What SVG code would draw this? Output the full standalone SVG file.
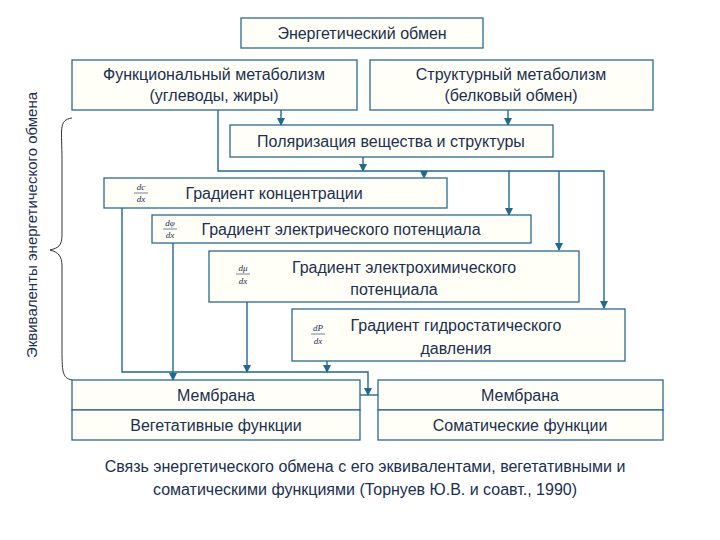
<svg xmlns="http://www.w3.org/2000/svg" width="720" height="540" viewBox="0 0 720 540">
<style>
.b{fill:#fffff8;stroke:#2a6a8a;stroke-width:1.3}
.t{font-family:"Liberation Sans",Arial,sans-serif;font-size:16px;fill:#1a3050;text-anchor:middle}
.f{font-family:"Liberation Serif",serif;font-style:italic;font-size:9px;fill:#1a3050;text-anchor:middle}
.c{fill:none;stroke:#1f6a8e;stroke-width:1.4}
</style>
<defs><marker id="a" markerWidth="8" markerHeight="8" refX="7" refY="4" orient="auto" markerUnits="userSpaceOnUse"><path d="M0,0L8,4L0,8z" fill="#1f6a8e"/></marker></defs>
<rect width="720" height="540" fill="#fff"/>
<g id="connectors">
<path class="c" d="M218,110V171H604V308" marker-end="url(#a)"/>
<path class="c" d="M281,110V125" marker-end="url(#a)"/>
<path class="c" d="M508,110V125" marker-end="url(#a)"/>
<path class="c" d="M363,157V171" marker-end="url(#a)"/>
<path class="c" d="M424,171V178" marker-end="url(#a)"/>
<path class="c" d="M509,171V215" marker-end="url(#a)"/>
<path class="c" d="M559,171V250" marker-end="url(#a)"/>
<path class="c" d="M122,208V372H368V395" marker-end="url(#a)"/>
<path class="c" d="M173,243V380" marker-end="url(#a)"/>
<path class="c" d="M247,302V372" marker-end="url(#a)"/>
<path class="c" d="M327,361V372" marker-end="url(#a)"/>
<path class="c" d="M360,395H378"/>
<path d="M72,118C58,120 62,130 62,160V235C62,246 58,248 50,250C58,252 62,256 62,266V345C62,372 62,378 72,380" fill="none" stroke="#333" stroke-width="1"/>
</g>
<g id="n0"><rect class="b" x="241" y="18" width="242" height="30"/><text class="t" x="362" y="39">Энергетический обмен</text></g>
<g id="n1"><rect class="b" x="72" y="60" width="285" height="50"/><text class="t" x="214" y="80">Функциональный метаболизм</text><text class="t" x="214" y="101">(углеводы, жиры)</text></g>
<g id="n2"><rect class="b" x="370" y="60" width="283" height="50"/><text class="t" x="511" y="80">Структурный метаболизм</text><text class="t" x="511" y="101">(белковый обмен)</text></g>
<g id="n3"><rect class="b" x="230" y="125" width="323" height="32"/><text class="t" x="391" y="147">Поляризация вещества и структуры</text></g>
<g id="n4"><rect class="b" x="104" y="178" width="343" height="30"/><text class="f" x="141" y="190">dc</text><path d="M134,193H148" stroke="#1a3050" stroke-width="0.6"/><text class="f" x="141" y="202">dx</text><text class="t" x="274" y="199">Градиент концентрации</text></g>
<g id="n5"><rect class="b" x="152" y="215" width="379" height="28"/><text class="f" x="170" y="226">dφ</text><path d="M163,229H177" stroke="#1a3050" stroke-width="0.6"/><text class="f" x="170" y="238">dx</text><text class="t" x="341" y="235">Градиент электрического потенциала</text></g>
<g id="n6"><rect class="b" x="209" y="251" width="370" height="51"/><text class="f" x="243" y="271">dμ</text><path d="M236,274H250" stroke="#1a3050" stroke-width="0.6"/><text class="f" x="243" y="284">dx</text><text class="t" x="404" y="273">Градиент электрохимического</text><text class="t" x="394" y="295">потенциала</text></g>
<g id="n7"><rect class="b" x="292" y="309" width="333" height="52"/><text class="f" x="318" y="331">dP</text><path d="M311,334H325" stroke="#1a3050" stroke-width="0.6"/><text class="f" x="318" y="344">dx</text><text class="t" x="456" y="331">Градиент гидростатического</text><text class="t" x="456" y="354">давления</text></g>
<g id="n8"><rect class="b" x="72" y="380" width="288" height="30"/><text class="t" x="216" y="401">Мембрана</text><rect class="b" x="72" y="410" width="288" height="30"/><text class="t" x="216" y="431">Вегетативные функции</text></g>
<g id="n9"><rect class="b" x="378" y="380" width="285" height="30"/><text class="t" x="520" y="401">Мембрана</text><rect class="b" x="378" y="410" width="285" height="30"/><text class="t" x="520" y="431">Соматические функции</text></g>
<text class="t" transform="translate(37,225) rotate(-90)" style="font-size:15px">Эквиваленты энергетического обмена</text>
<text class="t" x="365" y="472">Связь энергетического обмена с его эквивалентами, вегетативными и</text>
<text class="t" x="365" y="495">соматическими функциями (Торнуев Ю.В. и соавт., 1990)</text>
</svg>
